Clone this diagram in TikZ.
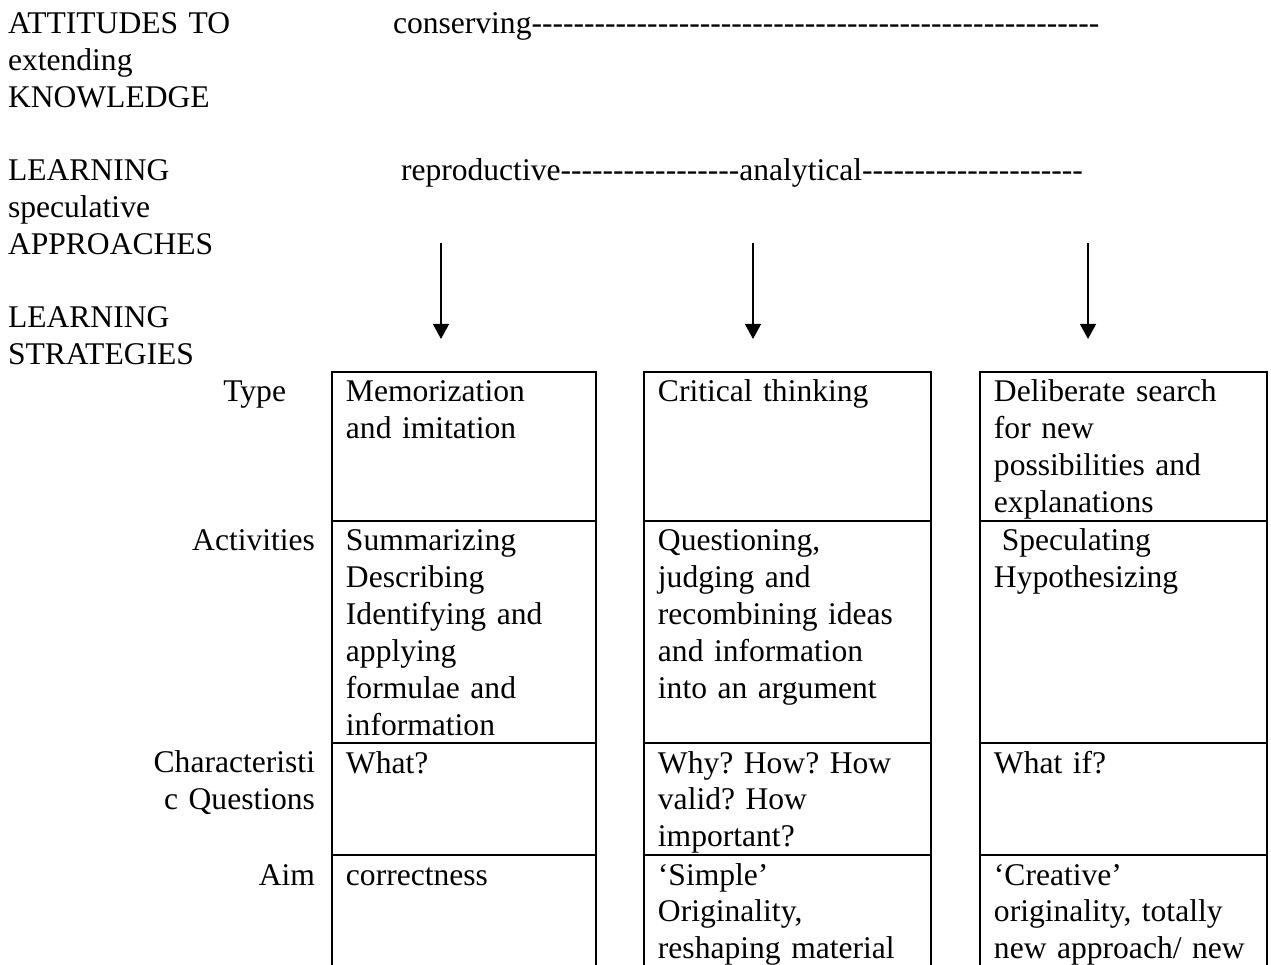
\documentclass[tikz,border=0pt]{standalone}
\usepackage{fontspec}
\setmainfont{Liberation Serif}
\usetikzlibrary{arrows.meta}

% a row of plain hyphens, kept apart so they do not join into dashes
\newcommand{\dashrun}[1]{\foreach \dashidx in {1,...,#1}{-\kern0pt}}

\begin{document}
\begin{tikzpicture}[
    x=0.38pt, y=-0.38pt,
    every node/.style={font=\fontsize{12}{14}\selectfont\frenchspacing, inner sep=0pt, outer sep=0pt},
    heading/.style={anchor=base west, align=left, text width=120pt},
    rowlabel/.style={anchor=base east, align=right, text width=80pt},
    cell/.style={draw, line width=0.75pt, anchor=north west, align=left, inner xsep=5.3pt, inner ysep=0pt, text height=11.4pt},
    typerow/.style={cell, text depth=45.2pt},
    actrow/.style={cell, text depth=73pt},
    questrow/.style={cell, text depth=31.2pt},
    aimrow/.style={cell, text depth=43.7pt},
    narrowcol/.style={text width=89.7pt},
    widecol/.style={text width=98.6pt},
    arrow/.style={-{Triangle[width=6pt,length=5.7pt]}, line width=0.75pt}
]
    \useasboundingbox (0,0) rectangle (1271,965);
    \clip (0,0) rectangle (1271,965);

    % left hand headings
    \node (attitudes) [heading] at (8,34) {ATTITUDES TO\\extending\\KNOWLEDGE};
    \node (approaches) [heading] at (8,181) {LEARNING\\speculative\\APPROACHES};
    \node (strategies) [heading] at (8,328) {LEARNING\\STRATEGIES};

    % scales
    \node (conserving) [anchor=base west] at (393,34) {conserving\dashrun{54}};
    \node (reproductive) [anchor=base west] at (401,181) {reproductive\dashrun{17}analytical\dashrun{21}};

    % row labels
    \node (typelabel) [rowlabel] at (286,402) {Type};
    \node (actlabel) [rowlabel] at (315,551) {Activities};
    \node (questlabel) [rowlabel] at (315,773) {Characteristi\\c Questions};
    \node (aimlabel) [rowlabel] at (315,885) {Aim};

    % first column
    \node (type1) [typerow, narrowcol] at (332,372) {Memorization\\and imitation};
    \node (act1) [actrow, narrowcol] at (type1.south west) {Summarizing\\Describing\\Identifying and\\applying\\formulae and\\information};
    \node (quest1) [questrow, narrowcol] at (act1.south west) {What?};
    \node (aim1) [aimrow, narrowcol] at (quest1.south west) {correctness};

    % second column
    \node (type2) [typerow, widecol] at (644,372) {Critical thinking};
    \node (act2) [actrow, widecol] at (type2.south west) {Questioning,\\judging and\\recombining ideas\\and information\\into an argument};
    \node (quest2) [questrow, widecol] at (act2.south west) {Why? How? How\\valid? How\\important?};
    \node (aim2) [aimrow, widecol] at (quest2.south west) {‘Simple’\\Originality,\\reshaping material};

    % third column
    \node (type3) [typerow, widecol] at (980,372) {Deliberate search\\for new\\possibilities and\\explanations};
    \node (act3) [actrow, widecol] at (type3.south west) {\hspace*{0.25em}Speculating\\Hypothesizing};
    \node (quest3) [questrow, widecol] at (act3.south west) {What if?};
    \node (aim3) [aimrow, widecol] at (quest3.south west) {‘Creative’\\originality, totally\\new approach/ new};

    % arrows
    \coordinate (top1) at (441,243);
    \coordinate (tip1) at (441,339);
    \coordinate (top2) at (753,243);
    \coordinate (tip2) at (753,339);
    \coordinate (top3) at (1088,243);
    \coordinate (tip3) at (1088,339);

    \draw [arrow] (top1) -- (tip1);
    \draw [arrow] (top2) -- (tip2);
    \draw [arrow] (top3) -- (tip3);
\end{tikzpicture}
\end{document}
